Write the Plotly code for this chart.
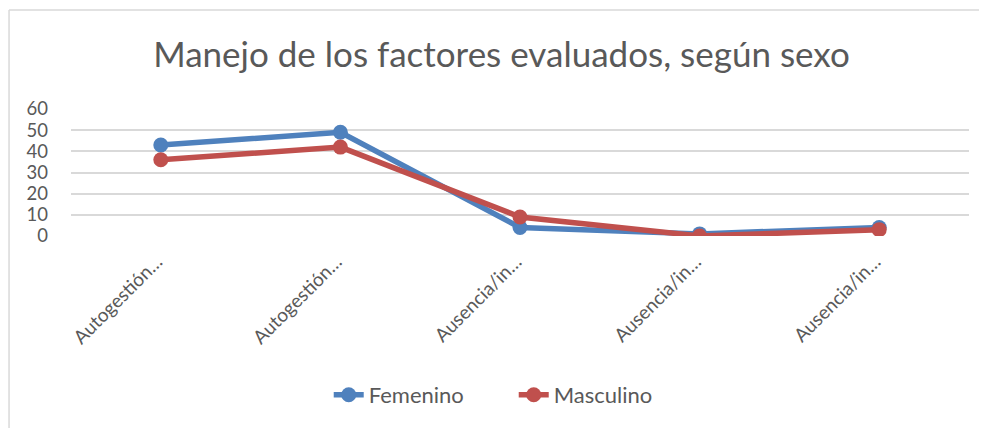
import plotly.graph_objects as go

categories = ["Autogestión…", "Autogestión…", "Ausencia/in…", "Ausencia/in…", "Ausencia/in…"]
femenino = [43, 49, 4, 1, 4]
masculino = [36, 42, 9, 0, 3]
y_ticks = [0, 10, 20, 30, 40, 50, 60]

x_pos = list(range(len(categories)))
gray = "#595959"
border = dict(color="#D9D9D9", width=1.5)

fig = go.Figure()
fig.add_trace(go.Scatter(x=x_pos, y=femenino, name="Femenino", mode="lines+markers",
                         line=dict(color="#4F81BD", width=5.5),
                         marker=dict(size=15, color="#4F81BD")))
fig.add_trace(go.Scatter(x=x_pos, y=masculino, name="Masculino", mode="lines+markers",
                         line=dict(color="#C0504D", width=5.5),
                         marker=dict(size=15, color="#C0504D")))

# page body adds an 8px offset, margins compensate for it
fig.update_layout(
    width=987, height=428,
    margin=dict(l=63, r=26, t=101, b=200),
    paper_bgcolor="white", plot_bgcolor="white",
    font=dict(family="Lato, Open Sans, sans-serif", color=gray),
    title=dict(text="Manejo de los factores evaluados, según sexo", x=0.5, xanchor="center",
               y=0.89, yanchor="middle", font=dict(size=35, color=gray)),
    xaxis=dict(tickmode="array", tickvals=x_pos, ticktext=categories, tickangle=-45,
               range=[-0.5, 4.5], showgrid=False, zeroline=False, showline=False,
               automargin=False, ticklabelstandoff=10, ticklabelshift=-4,
               tickfont=dict(size=19, color=gray)),
    yaxis=dict(range=[0, 60], tickmode="array", tickvals=y_ticks, showgrid=True,
               gridcolor="#D9D9D9", gridwidth=1.5, zeroline=False, showline=False,
               automargin=False,
               tickfont=dict(size=18.5, color=gray), ticklabelstandoff=22),
    legend=dict(orientation="h", x=0.287, xanchor="left", y=-1.252, yanchor="middle",
                entrywidth=140, entrywidthmode="pixels",
                font=dict(size=22, color=gray)),
    shapes=[
        dict(type="line", xref="paper", yref="paper", x0=-0.069, x1=-0.069,
             y0=-1.7, y1=1.78, line=border),
        dict(type="line", xref="paper", yref="paper", x0=-0.069, x1=1.1,
             y0=1.78, y1=1.78, line=border),
    ],
)

fig.write_html("out.html")
